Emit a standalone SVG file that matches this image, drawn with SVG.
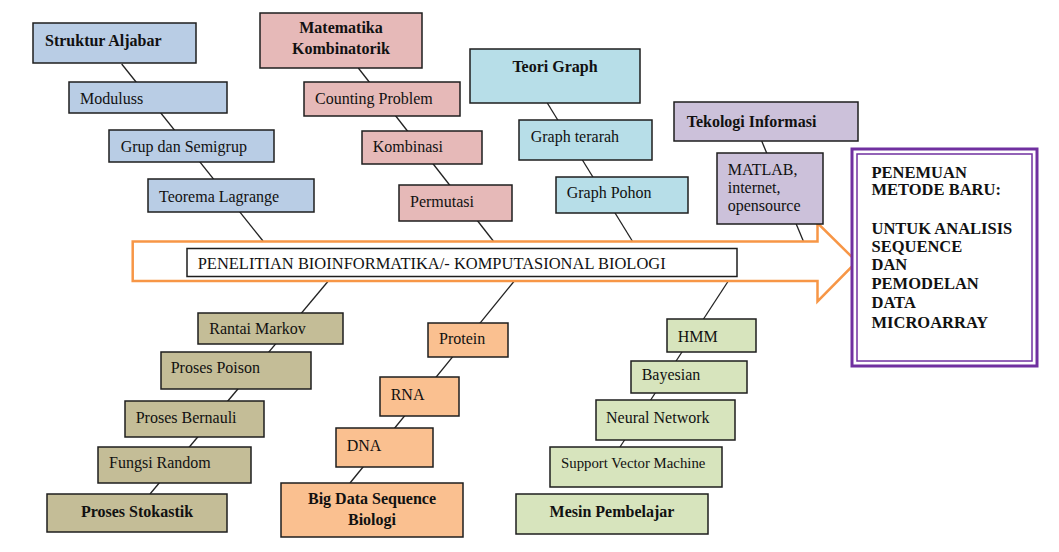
<svg xmlns="http://www.w3.org/2000/svg" width="1059" height="552" viewBox="0 0 1059 552">
<style>
text{font-family:"Liberation Serif","Times New Roman",serif;font-size:16px;fill:#111}
.b{font-weight:bold}
.c{text-anchor:middle}
rect.n{stroke:#1e1e1e;stroke-width:1.5}
.blue{fill:#b9cde5}.pink{fill:#e6b9b8}.cyan{fill:#b7dee8}.lav{fill:#ccc1da}
.olive{fill:#c4bd97}.orange{fill:#fac090}.green{fill:#d7e4bd}
.con line{stroke:#222;stroke-width:1.3}
</style>
<rect width="1059" height="552" fill="#ffffff"/>
<g id="connectors" class="con">
<line x1="121.7" y1="64" x2="263" y2="241"/>
<line x1="358.3" y1="68" x2="493.3" y2="241"/>
<line x1="547.3" y1="103" x2="632.3" y2="241"/>
<line x1="761.7" y1="141" x2="803.3" y2="241"/>
<line x1="328.3" y1="281" x2="150" y2="494"/>
<line x1="514.3" y1="281" x2="350" y2="483"/>
<line x1="728.3" y1="281" x2="620" y2="447"/>
</g>
<g id="arrow">
<path d="M132.7,241.5 L817.5,241.5 L817.5,223 L856.7,261.7 L817.5,301.5 L817.5,281 L132.7,281 Z" fill="#fff" stroke="#f79646" stroke-width="2.5" stroke-linejoin="miter"/>
<rect class="n" x="187" y="248.5" width="550" height="28" fill="#fff"/>
<text x="197.7" y="269" textLength="468" lengthAdjust="spacingAndGlyphs">PENELITIAN BIOINFORMATIKA/- KOMPUTASIONAL BIOLOGI</text>
</g>
<g id="struktur-aljabar"><rect class="n blue" x="33" y="23" width="163" height="40"/><text class="b" x="45" y="46">Struktur Aljabar</text></g>
<g id="moduluss"><rect class="n blue" x="69" y="82" width="158" height="31"/><text x="80" y="104">Moduluss</text></g>
<g id="grup"><rect class="n blue" x="109" y="130" width="165" height="32"/><text x="120.7" y="152">Grup dan Semigrup</text></g>
<g id="lagrange"><rect class="n blue" x="148" y="179" width="166" height="33"/><text x="159" y="202">Teorema Lagrange</text></g>

<g id="matematika"><rect class="n pink" x="260" y="13" width="162" height="55"/><text class="b c" x="341" y="33">Matematika</text><text class="b c" x="341" y="54">Kombinatorik</text></g>
<g id="counting"><rect class="n pink" x="304" y="82" width="156" height="34"/><text x="315" y="104">Counting Problem</text></g>
<g id="kombinasi"><rect class="n pink" x="362" y="131" width="120" height="33"/><text x="372.7" y="152">Kombinasi</text></g>
<g id="permutasi"><rect class="n pink" x="399" y="185" width="113" height="36"/><text x="410" y="207">Permutasi</text></g>

<g id="teori-graph"><rect class="n cyan" x="470" y="49" width="170" height="54"/><text class="b c" x="555" y="72">Teori Graph</text></g>
<g id="graph-terarah"><rect class="n cyan" x="519" y="120" width="133" height="40"/><text x="530.7" y="142">Graph terarah</text></g>
<g id="graph-pohon"><rect class="n cyan" x="556" y="177" width="132" height="36"/><text x="566.7" y="198">Graph Pohon</text></g>

<g id="tekologi"><rect class="n lav" x="674" y="102" width="184" height="39"/><text class="b" x="686.7" y="127">Tekologi Informasi</text></g>
<g id="matlab"><rect class="n lav" x="717" y="153" width="106" height="71"/><text x="727.7" y="175">MATLAB,</text><text x="727.7" y="193">internet,</text><text x="727.7" y="211">opensource</text></g>

<g id="hasil">
<rect x="852" y="149" width="185" height="217" fill="#fff" stroke="#7030a0" stroke-width="3"/>
<rect x="857" y="154" width="175" height="207" fill="none" stroke="#7030a0" stroke-width="1.5"/>
<g class="b" style="font-size:16.5px">
<text class="b" x="871.5" y="178" style="font-size:16.5px">PENEMUAN</text>
<text class="b" x="871.5" y="195" style="font-size:16.5px">METODE BARU:</text>
<text class="b" x="871.5" y="234" style="font-size:16.5px">UNTUK ANALISIS</text>
<text class="b" x="871.5" y="252" style="font-size:16.5px">SEQUENCE</text>
<text class="b" x="871.5" y="270" style="font-size:16.5px">DAN</text>
<text class="b" x="871.5" y="289" style="font-size:16.5px">PEMODELAN</text>
<text class="b" x="871.5" y="308" style="font-size:16.5px">DATA</text>
<text class="b" x="871.5" y="328" style="font-size:16.5px">MICROARRAY</text>
</g>
</g>

<g id="rantai"><rect class="n olive" x="198" y="313" width="145" height="31"/><text x="209.3" y="334">Rantai Markov</text></g>
<g id="poison"><rect class="n olive" x="161" y="352" width="150" height="37"/><text x="170.7" y="373">Proses Poison</text></g>
<g id="bernauli"><rect class="n olive" x="125" y="401" width="139" height="36"/><text x="135.7" y="422.5">Proses Bernauli</text></g>
<g id="fungsi"><rect class="n olive" x="98" y="447" width="153" height="36"/><text x="109" y="468">Fungsi Random</text></g>
<g id="stokastik"><rect class="n olive" x="47" y="494" width="180" height="38"/><text class="b c" x="137" y="517">Proses Stokastik</text></g>

<g id="protein"><rect class="n orange" x="428" y="323" width="80" height="34"/><text x="439" y="344">Protein</text></g>
<g id="rna"><rect class="n orange" x="380" y="377" width="79" height="39"/><text x="390.7" y="400">RNA</text></g>
<g id="dna"><rect class="n orange" x="336" y="428" width="97" height="39"/><text x="346.7" y="450.5">DNA</text></g>
<g id="bigdata"><rect class="n orange" x="281" y="483" width="182" height="54"/><text class="b c" x="372" y="504">Big Data Sequence</text><text class="b c" x="372" y="525">Biologi</text></g>

<g id="hmm"><rect class="n green" x="667" y="319" width="89" height="33"/><text x="677.7" y="341.5">HMM</text></g>
<g id="bayesian"><rect class="n green" x="631" y="361" width="116" height="32"/><text x="641.7" y="380">Bayesian</text></g>
<g id="neural"><rect class="n green" x="596" y="400" width="139" height="40"/><text x="606" y="423">Neural Network</text></g>
<g id="svm"><rect class="n green" x="550" y="447" width="172" height="40"/><text x="561" y="467.5" style="font-size:14.8px">Support Vector Machine</text></g>
<g id="mesin"><rect class="n green" x="516" y="494" width="192" height="40"/><text class="b c" x="612" y="516.5">Mesin Pembelajar</text></g>
</svg>
